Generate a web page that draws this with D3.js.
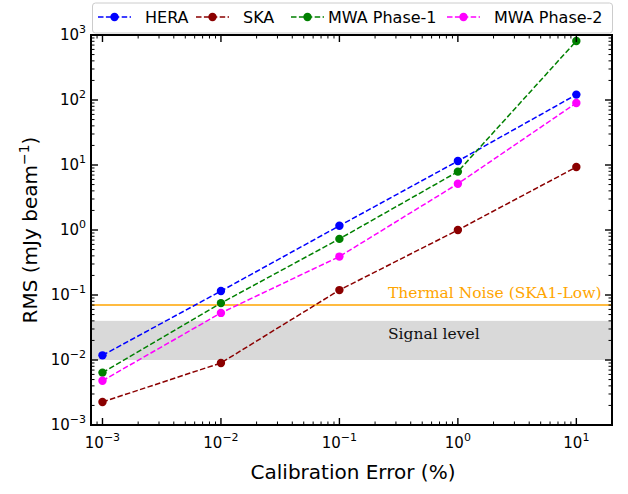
<!DOCTYPE html>
<html><head><meta charset="utf-8">
<script src="https://cdn.jsdelivr.net/npm/d3@7"></script>
<style>body{margin:0;background:#fff}svg text{font-family:"DejaVu Sans",sans-serif}</style>
</head><body>
<svg id="c" width="628" height="494"></svg>
<script>
const calibErr = [0.001, 0.01, 0.1, 1, 10];
const hera = [0.0118, 0.115, 1.16, 11.5, 121];
const ska = [0.00226, 0.0090, 0.119, 1.0, 9.3];
const mwa1 = [0.0064, 0.075, 0.73, 7.9, 810];
const mwa2 = [0.0048, 0.053, 0.39, 5.15, 90];
const seriesNames = ["HERA", "SKA", "MWA Phase-1", "MWA Phase-2"];
const seriesColors = ["#0000ff", "#8b0000", "#008000", "#ff00ff"];
const thermalNoise = 0.07;
const signalBand = [0.01, 0.04];
const xTickExp = [-3, -2, -1, 0, 1];
const yTickExp = [-3, -2, -1, 0, 1, 2, 3];

const svg = d3.select("#c");
const L = 91, R = 612, T = 35, B = 425;
const x = d3.scaleLog().domain([8e-4, 20]).range([L, R]);
const y = d3.scaleLog().domain([1e-3, 1e3]).range([B, T]);

// band
svg.append("rect").attr("x", L).attr("width", R - L)
  .attr("y", y(signalBand[1])).attr("height", y(signalBand[0]) - y(signalBand[1]))
  .attr("fill", "#d9d9d9");
svg.append("line").attr("x1", L).attr("x2", R).attr("y1", y(thermalNoise)).attr("y2", y(thermalNoise))
  .attr("stroke", "#ffa500").attr("stroke-width", 1.5);
svg.append("text").attr("x", 388).attr("y", 298).attr("fill", "#ffa500")
  .style("font-family", "'DejaVu Serif',serif").style("font-size", "15.5px").text("Thermal Noise (SKA1-Low)");
svg.append("text").attr("x", 388).attr("y", 339).attr("fill", "#111")
  .style("font-family", "'DejaVu Serif',serif").style("font-size", "15.5px").text("Signal level");

const data = [hera, ska, mwa1, mwa2];
const line = d3.line().x(d => x(d[0])).y(d => y(d[1]));
data.forEach((s, i) => {
  const pts = calibErr.map((c, j) => [c, s[j]]);
  svg.append("path").attr("d", line(pts)).attr("fill", "none")
    .attr("stroke", seriesColors[i]).attr("stroke-width", 1.5).attr("stroke-dasharray", "5.5,2.4");
  svg.selectAll(null).data(pts).enter().append("circle")
    .attr("cx", d => x(d[0])).attr("cy", d => y(d[1])).attr("r", 4.2).attr("fill", seriesColors[i]);
});

// ticks
const g = svg.append("g");
function minorVals(lo, hi) { const v = []; for (let e = lo; e <= hi; e++) for (let m = 1; m < 10; m++) v.push(m * Math.pow(10, e)); return v; }
const xMinor = minorVals(-4, 1).filter(v => v >= 8e-4 && v <= 20);
const yMinor = minorVals(-3, 2).filter(v => v >= 1e-3 && v <= 1e3);
function isMajor(v) { const l = Math.log10(v); return Math.abs(l - Math.round(l)) < 1e-9; }
xMinor.forEach(v => {
  const len = isMajor(v) ? 7 : 3.5, w = isMajor(v) ? 1.4 : 1;
  g.append("line").attr("x1", x(v)).attr("x2", x(v)).attr("y1", B).attr("y2", B - len).attr("stroke", "#000").attr("stroke-width", w);
  g.append("line").attr("x1", x(v)).attr("x2", x(v)).attr("y1", T).attr("y2", T + len).attr("stroke", "#000").attr("stroke-width", w);
});
yMinor.forEach(v => {
  const len = isMajor(v) ? 7 : 3.5, w = isMajor(v) ? 1.4 : 1;
  g.append("line").attr("y1", y(v)).attr("y2", y(v)).attr("x1", L).attr("x2", L + len).attr("stroke", "#000").attr("stroke-width", w);
  g.append("line").attr("y1", y(v)).attr("y2", y(v)).attr("x1", R).attr("x2", R - len).attr("stroke", "#000").attr("stroke-width", w);
});
svg.append("rect").attr("x", L).attr("y", T).attr("width", R - L).attr("height", B - T)
  .attr("fill", "none").attr("stroke", "#000").attr("stroke-width", 2);

function expLabel(sel, e) {
  sel.append("tspan").text("10");
  sel.append("tspan").attr("dy", -7).style("font-size", "11px").text(e < 0 ? "\u2212" + (-e) : String(e));
}
xTickExp.forEach(e => {
  const t = svg.append("text").attr("x", x(Math.pow(10, e))).attr("y", 448).attr("text-anchor", "middle").style("font-size", "15px");
  expLabel(t, e);
});
yTickExp.forEach(e => {
  const t = svg.append("text").attr("x", 86).attr("y", y(Math.pow(10, e)) + 5).attr("text-anchor", "end").style("font-size", "15px");
  expLabel(t, e);
});

svg.append("text").attr("x", 353).attr("y", 479).attr("text-anchor", "middle").style("font-size", "20px").text("Calibration Error (%)");
const yl = svg.append("text").attr("transform", "translate(37," + ((T + B) / 2) + ") rotate(-90)").attr("text-anchor", "middle").style("font-size", "20px");
yl.append("tspan").text("RMS (mJy beam");
yl.append("tspan").attr("dy", -8).style("font-size", "14px").text("\u22121");
yl.append("tspan").attr("dy", 8).text(")");

// legend
const lg = svg.append("g");
lg.append("rect").attr("x", 92.5).attr("y", 3).attr("width", 520).attr("height", 30).attr("rx", 3)
  .attr("fill", "#fff").attr("fill-opacity", 0.9).attr("stroke", "#ccc").attr("stroke-width", 1);
const handleX = [98, 196, 291, 447];
const textX = [145, 243, 328, 494];
seriesNames.forEach((n, i) => {
  lg.append("line").attr("x1", handleX[i]).attr("x2", handleX[i] + 33).attr("y1", 17).attr("y2", 17)
    .attr("stroke", seriesColors[i]).attr("stroke-width", 1.5).attr("stroke-dasharray", "5.5,2.4");
  lg.append("circle").attr("cx", handleX[i] + 16.5).attr("cy", 17).attr("r", 4.2).attr("fill", seriesColors[i]);
  lg.append("text").attr("x", textX[i]).attr("y", 23).style("font-size", "16px").text(n);
});
</script>
</body></html>
